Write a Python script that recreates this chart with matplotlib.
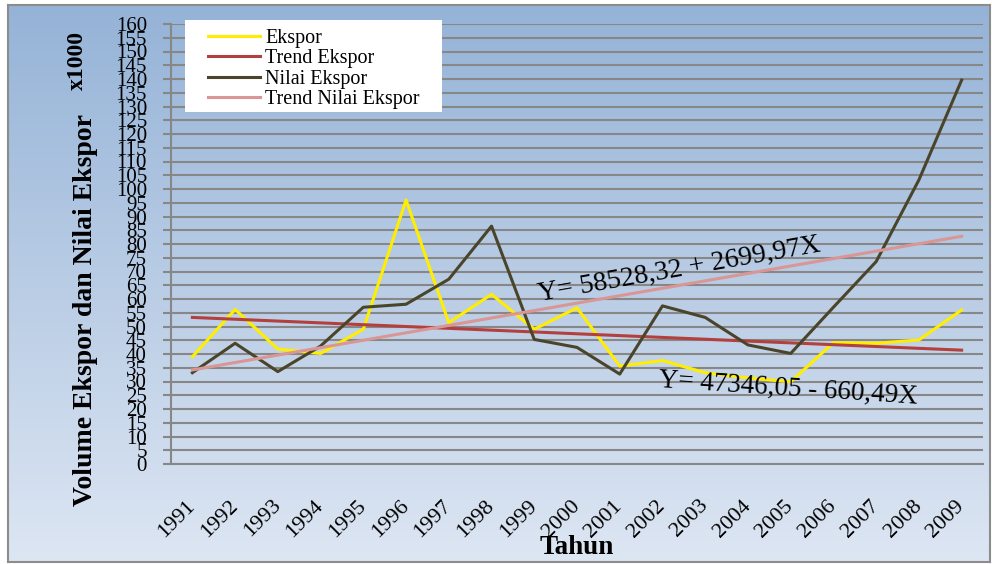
import matplotlib
matplotlib.use("Agg")
import matplotlib.pyplot as plt
import numpy as np
from matplotlib.colors import LinearSegmentedColormap
from matplotlib.patches import Rectangle

plt.rcParams["font.family"] = ["Liberation Serif", "DejaVu Serif"]

# data (values x1000)
years = ["1991", "1992", "1993", "1994", "1995", "1996", "1997", "1998", "1999", "2000",
         "2001", "2002", "2003", "2004", "2005", "2006", "2007", "2008", "2009"]
ekspor = [39.0, 56.2, 41.8, 40.2, 49.0, 96.0, 51.4, 61.7, 49.0, 56.8,
          35.6, 37.6, 33.2, 31.3, 29.9, 44.1, 43.9, 45.1, 56.0]
nilai_ekspor = [33.2, 43.9, 33.6, 42.9, 57.0, 58.1, 67.2, 86.5, 45.3, 42.4,
                32.7, 57.5, 53.3, 43.3, 40.2, 57.0, 73.6, 103.3, 139.6]
# trend lines: values at first and last year
trend_years = [years[0], years[-1]]
trend_ekspor = [53.3, 41.4]
trend_nilai = [34.2, 82.8]

eq_nilai = "Y= 58528,32 + 2699,97X"
eq_ekspor = "Y= 47346,05 - 660,49X"

grid_col = "#878787"

fig = plt.figure(figsize=(9.92, 5.64), dpi=100)
fig.patch.set_facecolor("white")

# gradient chart area
bg = fig.add_axes([8 / 992, 2 / 564, 982 / 992, 557 / 564])
bg.imshow(np.linspace(0, 1, 256)[:, None], aspect="auto", extent=[0, 1, 0, 1],
          cmap=LinearSegmentedColormap.from_list("bg", ["#95b3d7", "#dde6f3"]))
bg.set_xticks([])
bg.set_yticks([])
for s in bg.spines.values():
    s.set_color("#8c8c8c")
    s.set_linewidth(1.5)

ax = fig.add_axes([171 / 992, 100 / 564, 812 / 992, 440 / 564])
ax.patch.set_alpha(0)

x = np.arange(len(years))
tx = [years.index(y) for y in trend_years]
l1, = ax.plot(x, ekspor, color="#ffee00", lw=2.2, label="Ekspor")
l2, = ax.plot(tx, trend_ekspor, color="#b4403d", lw=2.2, label="Trend Ekspor")
l3, = ax.plot(x, nilai_ekspor, color="#4a452a", lw=2.2, label="Nilai Ekspor")
l4, = ax.plot(tx, trend_nilai, color="#d99694", lw=2.2, label="Trend Nilai Ekspor")

ax.set_xlim(-0.5, len(years) - 0.5)
ax.set_ylim(0, 160)
ax.set_yticks(np.arange(0, 161, 5))
ax.tick_params(axis="y", direction="out", length=5.8, width=1.5, color=grid_col,
               labelsize=15, pad=11.5)
ax.set_xticks(x)
ax.set_xticklabels(years, rotation=45, ha="right", va="center",
                   rotation_mode="anchor", fontsize=16)
ax.tick_params(axis="x", length=0, pad=28)

ax.yaxis.grid(True, color=grid_col, lw=1.5)
ax.set_axisbelow(True)
for side in ["top", "right"]:
    ax.spines[side].set_visible(False)
for side in ["left", "bottom"]:
    ax.spines[side].set_color(grid_col)
    ax.spines[side].set_linewidth(1.5)

ax.text(11.38, 70.5, eq_nilai, rotation=10, rotation_mode="anchor",
        ha="center", va="center", fontsize=20)
ax.text(13.95, 27.3, eq_ekspor, rotation=-3.7, rotation_mode="anchor",
        ha="center", va="center", fontsize=19.5)

# axis titles
fig.text(86 / 992, 1 - 310 / 564, "Volume Ekspor dan Nilai Ekspor", rotation=90,
         ha="center", va="center", fontsize=20, fontweight="bold")
fig.text(77 / 992, 1 - 61 / 564, "x1000", rotation=90,
         ha="center", va="center", fontsize=17, fontweight="bold")
fig.text(577 / 992, 1 - 547 / 564, "Tahun", ha="center", va="center",
         fontsize=19.5, fontweight="bold")

# legend on a white box
fig.add_artist(Rectangle((185 / 992, 1 - 112 / 564), 257 / 992, 92 / 564,
                         transform=fig.transFigure, facecolor="white",
                         edgecolor="none", zorder=1))
leg = fig.legend([l1, l2, l3, l4], [l.get_label() for l in (l1, l2, l3, l4)],
                 loc="upper left", bbox_to_anchor=(198 / 992, 1 - 19 / 564),
                 frameon=False, fontsize=14.5, borderpad=0, handlelength=2.6,
                 handletextpad=0.25, labelspacing=0.06)
leg.set_zorder(2)

fig.savefig("out.png", dpi=100)
